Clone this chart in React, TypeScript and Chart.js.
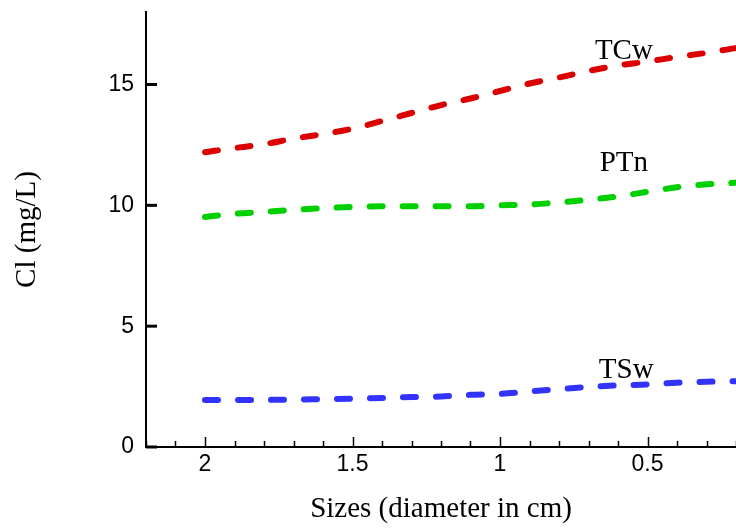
import React, { useEffect, useRef } from "react";
import { Chart, registerables } from "chart.js";

Chart.register(...registerables);

// Data
const sizes = [2.0, 1.9, 1.8, 1.7, 1.6, 1.5, 1.4, 1.3, 1.2, 1.1, 1.0, 0.9, 0.8, 0.7, 0.6, 0.5, 0.4, 0.3, 0.2];
const tcw = [12.2, 12.37, 12.53, 12.76, 12.95, 13.17, 13.49, 13.82, 14.15, 14.42, 14.73, 15.04, 15.29, 15.56, 15.79, 15.95, 16.14, 16.31, 16.51];
const ptn = [9.52, 9.65, 9.73, 9.81, 9.88, 9.93, 9.96, 9.96, 9.96, 9.96, 10.0, 10.03, 10.12, 10.23, 10.37, 10.56, 10.75, 10.87, 10.93];
const tsw = [1.95, 1.95, 1.95, 1.96, 1.98, 2.0, 2.03, 2.07, 2.09, 2.16, 2.2, 2.3, 2.39, 2.49, 2.55, 2.59, 2.66, 2.7, 2.72];

const seriesNames = ["TCw", "PTn", "TSw"];
const seriesColors = ["rgb(221,0,0)", "rgb(0,208,0)", "rgb(51,51,255)"];
const labelX = [0.58, 0.58, 0.572];
const labelY = [16.05, 11.41, 2.86];

const xMin = 0.2;
const xMax = 2.2;
const yMin = 0;
const yMax = 18;

const App: React.FC = () => {
  const ref = useRef<HTMLCanvasElement | null>(null);

  useEffect(() => {
    if (!ref.current) return;
    const allSeries = [tcw, ptn, tsw];

    const decor = {
      id: "decor",
      afterDraw(chart: any) {
        const ctx = chart.ctx;
        const xs = chart.scales.x;
        const ys = chart.scales.y;
        const area = chart.chartArea;
        ctx.save();
        ctx.strokeStyle = "#000";
        // x ticks (inward)
        ctx.lineWidth = 1.5;
        xs.ticks.forEach((t: any) => {
          const major = Math.abs(t.value * 2 - Math.round(t.value * 2)) < 1e-6;
          const px = Math.round(xs.getPixelForValue(t.value)) + 0.5;
          ctx.beginPath();
          ctx.moveTo(px, area.bottom);
          ctx.lineTo(px, area.bottom - (major ? 10 : 6));
          ctx.stroke();
        });
        // y ticks (inward)
        ctx.lineWidth = 3;
        ys.ticks.forEach((t: any) => {
          const py = ys.getPixelForValue(t.value);
          ctx.beginPath();
          ctx.moveTo(area.left, py);
          ctx.lineTo(area.left + 11, py);
          ctx.stroke();
        });
        // series labels
        ctx.fillStyle = "#000";
        ctx.font = '29px "Liberation Serif", serif';
        ctx.textAlign = "center";
        ctx.textBaseline = "alphabetic";
        seriesNames.forEach((n, i) => {
          ctx.fillText(n, xs.getPixelForValue(labelX[i]), ys.getPixelForValue(labelY[i]));
        });
        ctx.restore();
      },
    };

    const chart = new Chart(ref.current, {
      type: "line",
      data: {
        datasets: seriesNames.map((name, i) => ({
          label: name,
          data: sizes.map((s, j) => ({ x: s, y: allSeries[i][j] })),
          borderColor: seriesColors[i],
          backgroundColor: seriesColors[i],
          borderWidth: 6,
          borderDash: [13, 20],
          borderCapStyle: "round" as const,
          pointRadius: 0,
          cubicInterpolationMode: "monotone" as const,
          fill: false,
        })),
      },
      options: {
        animation: false,
        responsive: false,
        maintainAspectRatio: false,
        layout: { padding: { top: 12, left: 0, right: 0, bottom: 0 } },
        plugins: {
          legend: { display: false },
          tooltip: { enabled: false },
          title: { display: false },
        },
        scales: {
          x: {
            type: "linear",
            reverse: true,
            min: xMin,
            max: xMax,
            grid: { display: false, drawTicks: false },
            border: { display: true, color: "#000", width: 2 },
            ticks: {
              stepSize: 0.1,
              autoSkip: false,
              maxRotation: 0,
              includeBounds: false,
              padding: 4,
              color: "#000",
              font: { family: '"Liberation Sans", Arial, sans-serif', size: 23 },
              callback: (v: any) => {
                const n = Number(v);
                if (Math.abs(n * 2 - Math.round(n * 2)) < 1e-6) {
                  const r = Math.round(n * 2) / 2;
                  return String(r);
                }
                return "";
              },
            },
            title: {
              display: true,
              text: "Sizes (diameter in cm)",
              color: "#000",
              font: { family: '"Liberation Serif", "Times New Roman", serif', size: 29 },
              padding: { top: 0, bottom: 2 },
            },
            afterFit: (s: any) => {
              s.height = 82;
              s.paddingLeft = 0;
              s.paddingRight = 0;
            },
          },
          y: {
            type: "linear",
            min: yMin,
            max: yMax,
            grid: { display: false, drawTicks: false },
            border: { display: true, color: "#000", width: 2 },
            ticks: {
              stepSize: 5,
              includeBounds: false,
              padding: 12,
              color: "#000",
              font: { family: '"Liberation Sans", Arial, sans-serif', size: 23 },
            },
            title: {
              display: true,
              text: "Cl (mg/L)",
              color: "#000",
              font: { family: '"Liberation Serif", "Times New Roman", serif', size: 29 },
              padding: { top: 10, bottom: 0 },
            },
            afterFit: (s: any) => {
              s.width = 146;
              s.paddingTop = 0;
              s.paddingBottom = 0;
            },
          },
        },
      },
      plugins: [decor],
    });
    return () => chart.destroy();
  }, []);

  return (
    <div style={{ position: "fixed", left: 0, top: 0, width: 736, height: 529, background: "#fff" }}>
      <canvas ref={ref} width={736} height={529} style={{ display: "block" }} />
    </div>
  );
};

export default App;
